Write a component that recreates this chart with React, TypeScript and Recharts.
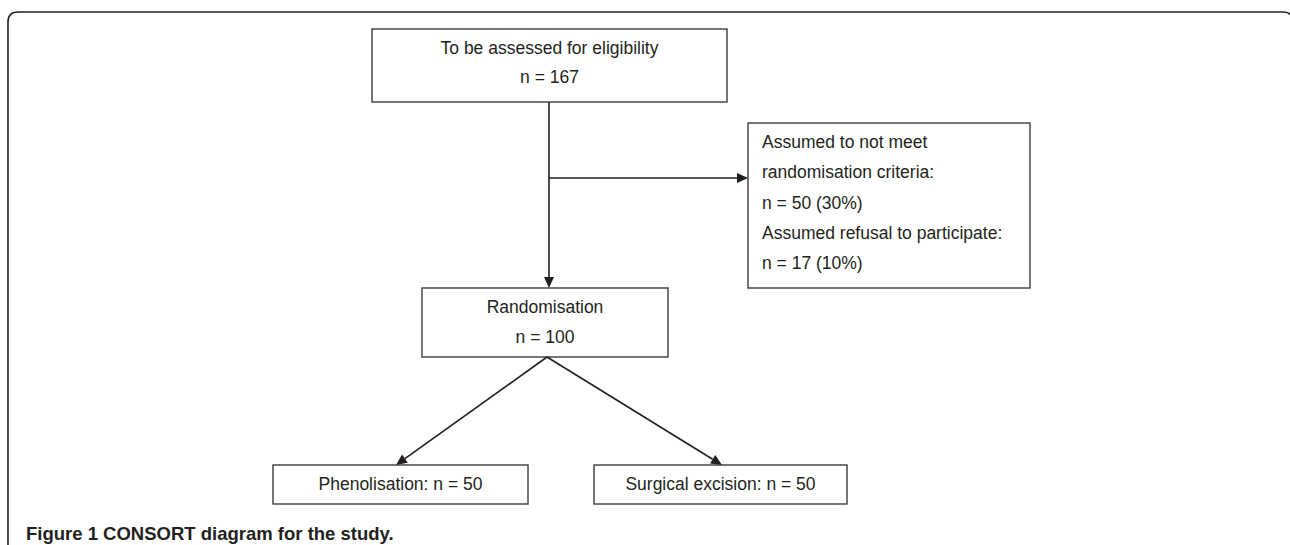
import {
  ComposedChart,
  ReferenceArea,
  ReferenceLine,
  XAxis,
  YAxis,
} from 'recharts';

// Flow stages and counts.
const flowLabels = ['To be assessed for eligibility', 'Randomisation', 'Phenolisation', 'Surgical excision'];
const flowCounts = [167, 100, 50, 50];
const exclusionLabels = [['Assumed to not meet', 'randomisation criteria:'], ['Assumed refusal to participate:']];
const exclusionCounts = [50, 17];
const exclusionPercents = [30, 10];
const caption = ['Figure 1', 'CONSORT diagram for the study.'];

const W = 1290;
const H = 545;
const INK = '#231f20';
const FONT = '"Liberation Sans", Arial, Helvetica, sans-serif';

// Diagram layout, in the chart's own coordinate space (x right, y down).
type Box = { x1: number; x2: number; y1: number; y2: number };
const frame: Box = { x1: 8, x2: 1293, y1: 12, y2: 560 };
const assessBox: Box = { x1: 372, x2: 727, y1: 29, y2: 102 };
const excludedBox: Box = { x1: 748, x2: 1030, y1: 123, y2: 288 };
const randomBox: Box = { x1: 422, x2: 668, y1: 288, y2: 357 };
const phenolBox: Box = { x1: 273, x2: 528, y1: 465, y2: 504 };
const surgeryBox: Box = { x1: 594, x2: 847, y1: 465, y2: 504 };

type Seg = { from: [number, number]; to: [number, number]; head: boolean };
const arrows: Seg[] = [
  { from: [549, 102], to: [549, 288], head: true },
  { from: [549, 178], to: [748, 178], head: true },
  { from: [547, 357], to: [396, 465], head: true },
  { from: [547, 357], to: [722, 465], head: true },
];

type BoxText = { box: Box; lines: string[]; align: 'center' | 'left'; first?: number; gap?: number };

const boxTexts: BoxText[] = [
  {
    box: assessBox,
    lines: [flowLabels[0], `n = ${flowCounts[0]}`],
    align: 'center',
    first: 19,
    gap: 29,
  },
  {
    box: excludedBox,
    lines: [
      ...exclusionLabels[0],
      `n = ${exclusionCounts[0]} (${exclusionPercents[0]}%)`,
      ...exclusionLabels[1],
      `n = ${exclusionCounts[1]} (${exclusionPercents[1]}%)`,
    ],
    align: 'left',
    first: 19,
    gap: 30.3,
  },
  {
    box: randomBox,
    lines: [flowLabels[1], `n = ${flowCounts[1]}`],
    align: 'center',
    first: 19,
    gap: 30,
  },
  { box: phenolBox, lines: [`${flowLabels[2]}: n = ${flowCounts[2]}`], align: 'center' },
  { box: surgeryBox, lines: [`${flowLabels[3]}: n = ${flowCounts[3]}`], align: 'center' },
];

function boxShape(item: BoxText) {
  return (p: any) => {
    const { x, y, width, height } = p;
    return (
      <g>
        <rect x={x} y={y} width={width} height={height} fill="#fff" stroke="#3c3c3c" strokeWidth={1.4} />
        {item.lines.map((t, i) => {
          const cy =
            item.first === undefined ? y + height / 2 - 1 : y + item.first + i * (item.gap ?? 30);
          return (
            <text
              key={i}
              x={item.align === 'left' ? x + 14 : x + width / 2}
              y={cy}
              textAnchor={item.align === 'left' ? 'start' : 'middle'}
              dominantBaseline="central"
              fontFamily={FONT}
              fontSize={17.5}
              fill={INK}
            >
              {t}
            </text>
          );
        })}
      </g>
    );
  };
}

function arrowShape(withHead: boolean) {
  return (p: any) => {
    const { x1, y1, x2, y2 } = p;
    const ang = Math.atan2(y2 - y1, x2 - x1);
    const len = 11;
    const half = 5;
    const bx = x2 - len * Math.cos(ang);
    const by = y2 - len * Math.sin(ang);
    const nx = -Math.sin(ang) * half;
    const ny = Math.cos(ang) * half;
    return (
      <g>
        <line x1={x1} y1={y1} x2={bx} y2={by} stroke={INK} strokeWidth={1.6} />
        {withHead && (
          <polygon points={`${x2},${y2} ${bx + nx},${by + ny} ${bx - nx},${by - ny}`} fill={INK} />
        )}
      </g>
    );
  };
}

function frameShape(p: any) {
  const { x, y, width, height } = p;
  const r = 10;
  const right = x + width;
  const bottom = y + height;
  const d = `M ${x} ${bottom} L ${x} ${y + r} Q ${x} ${y} ${x + r} ${y} L ${right - r} ${y} Q ${right} ${y} ${right} ${y + r} L ${right} ${bottom}`;
  return <path d={d} fill="none" stroke={INK} strokeWidth={1.6} />;
}

export default function App() {
  return (
    <div style={{ width: W, height: H, background: '#fff' }}>
      <style>{'body{margin:0}'}</style>
      <ComposedChart width={W} height={H} margin={{ top: 0, right: 0, bottom: 0, left: 0 }}>
        <XAxis type="number" dataKey="x" domain={[0, W]} hide allowDataOverflow />
        <YAxis type="number" dataKey="y" domain={[0, H]} reversed hide allowDataOverflow />
        <ReferenceArea
          x1={frame.x1}
          x2={frame.x2}
          y1={frame.y1}
          y2={frame.y2}
          ifOverflow="visible"
          shape={frameShape}
        />
        {arrows.map((a, i) => (
          <ReferenceLine
            key={`a${i}`}
            segment={[
              { x: a.from[0], y: a.from[1] },
              { x: a.to[0], y: a.to[1] },
            ]}
            ifOverflow="visible"
            shape={arrowShape(a.head)}
          />
        ))}
        {boxTexts.map((b, i) => (
          <ReferenceArea
            key={`b${i}`}
            x1={b.box.x1}
            x2={b.box.x2}
            y1={b.box.y1}
            y2={b.box.y2}
            ifOverflow="visible"
            shape={boxShape(b)}
          />
        ))}
        <ReferenceArea
          x1={26}
          x2={500}
          y1={522}
          y2={545}
          ifOverflow="visible"
          shape={(p: any) => (
            <text
              x={p.x}
              y={p.y + 18}
              fontFamily={FONT}
              fontWeight={700}
              fontSize={18.5}
              fill={INK}
            >
              {caption.join(' ')}
            </text>
          )}
        />
      </ComposedChart>
    </div>
  );
}
